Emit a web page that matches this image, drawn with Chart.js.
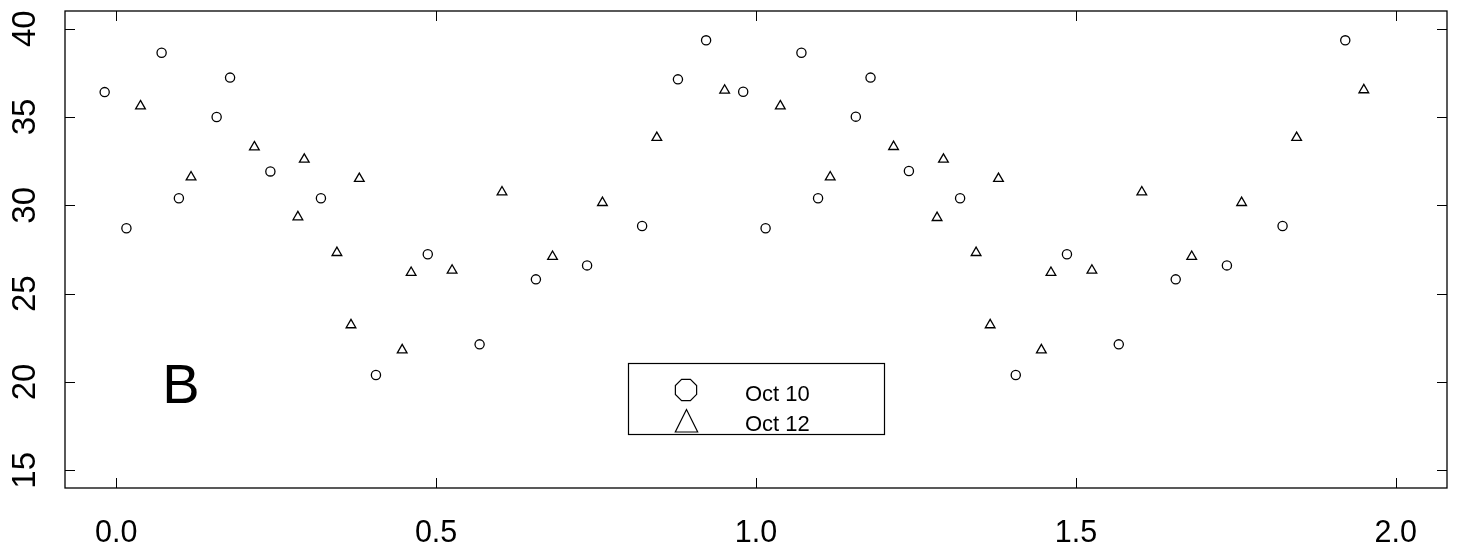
<!DOCTYPE html>
<html>
<head>
<meta charset="utf-8">
<script src="https://cdn.jsdelivr.net/npm/chart.js@4.4.0/dist/chart.umd.min.js"></script>
<style>
  html, body { margin: 0; padding: 0; background: #fff; }
  #wrap { width: 1460px; height: 554px; }
</style>
</head>
<body>
<div id="wrap"><canvas id="grafico" width="1460" height="554"></canvas></div>
<script>
// Dados (x, y) para cada série
const oct10X = [-0.018, 0.016, 0.071, 0.098, 0.157, 0.178, 0.241, 0.320, 0.406, 0.487, 0.568, 0.656, 0.736, 0.822, 0.878, 0.922,
                0.980, 1.015, 1.071, 1.097, 1.156, 1.179, 1.239, 1.319, 1.406, 1.486, 1.567, 1.656, 1.736, 1.823, 1.921];
const oct10Y = [36.41, 28.70, 38.64, 30.40, 35.00, 37.23, 31.92, 30.40, 20.40, 27.23, 22.13, 25.81, 26.60, 28.83, 37.13, 39.34,
                36.43, 28.70, 38.64, 30.40, 35.02, 37.23, 31.94, 30.40, 20.40, 27.23, 22.13, 25.81, 26.60, 28.83, 39.34];
const oct12X = [0.038, 0.117, 0.216, 0.284, 0.294, 0.345, 0.367, 0.380, 0.447, 0.461, 0.525, 0.603, 0.682, 0.760, 0.845, 0.951,
                1.038, 1.116, 1.215, 1.283, 1.293, 1.344, 1.366, 1.379, 1.446, 1.461, 1.525, 1.603, 1.681, 1.759, 1.845, 1.950];
const oct12Y = [35.62, 31.60, 33.30, 29.34, 32.60, 27.32, 23.23, 31.51, 21.81, 26.19, 26.32, 30.75, 27.10, 30.15, 33.83, 36.51,
                35.62, 31.60, 33.32, 29.30, 32.60, 27.32, 23.23, 31.51, 21.81, 26.19, 26.32, 30.75, 27.10, 30.15, 33.83, 36.53];
const xTicks = [0, 0.5, 1, 1.5, 2];
const yTicks = [15, 20, 25, 30, 35, 40];
const nomesSeries = ['Oct 10', 'Oct 12'];
const rotuloPainel = 'B';

const FONTE = '"Liberation Sans", Arial, Helvetica, sans-serif';

function pares(xs, ys) {
    return xs.map((x, i) => ({ x: x, y: ys[i] }));
}

// Moldura, marcas internas, letra do painel e legenda
const moldura = {
    id: 'moldura',
    afterDraw(chart) {
        const ctx = chart.ctx;
        const a = chart.chartArea;
        const sx = chart.scales.x;
        const sy = chart.scales.y;
        ctx.save();
        ctx.strokeStyle = '#000';
        ctx.lineWidth = 1.3;
        ctx.strokeRect(a.left, a.top, a.right - a.left, a.bottom - a.top);

        ctx.lineWidth = 1;
        ctx.beginPath();
        xTicks.forEach(v => {
            const px = Math.round(sx.getPixelForValue(v)) + 0.5;
            ctx.moveTo(px, a.bottom); ctx.lineTo(px, a.bottom - 10);
            ctx.moveTo(px, a.top); ctx.lineTo(px, a.top + 10);
        });
        yTicks.forEach(v => {
            const py = Math.round(sy.getPixelForValue(v)) + 0.5;
            ctx.moveTo(a.left, py); ctx.lineTo(a.left + 10, py);
            ctx.moveTo(a.right, py); ctx.lineTo(a.right - 10, py);
        });
        ctx.stroke();

        // Letra do painel
        ctx.fillStyle = '#000';
        ctx.font = '56px ' + FONTE;
        ctx.textAlign = 'center';
        ctx.textBaseline = 'alphabetic';
        ctx.fillText(rotuloPainel, 181, 403);

        // Legenda
        ctx.lineWidth = 1.2;
        ctx.strokeRect(628.5, 363.5, 256, 71);
        const cx = 686, cy = 390, r = 11.5;
        ctx.beginPath();
        for (let k = 0; k < 8; k++) {
            const ang = Math.PI / 8 + k * Math.PI / 4;
            const px = cx + r * Math.cos(ang), py = cy + r * Math.sin(ang);
            if (k === 0) ctx.moveTo(px, py); else ctx.lineTo(px, py);
        }
        ctx.closePath();
        ctx.stroke();
        ctx.beginPath();
        ctx.moveTo(686.5, 409.5);
        ctx.lineTo(675.3, 432);
        ctx.lineTo(697.7, 432);
        ctx.closePath();
        ctx.stroke();

        ctx.font = '22px ' + FONTE;
        ctx.textAlign = 'left';
        ctx.fillText(nomesSeries[0], 745, 400.5);
        ctx.fillText(nomesSeries[1], 745, 430.5);
        ctx.restore();
    }
};

const ctxGraf = document.getElementById('grafico').getContext('2d');
new Chart(ctxGraf, {
    type: 'scatter',
    data: {
        datasets: [
            {
                label: nomesSeries[0],
                data: pares(oct10X, oct10Y),
                pointStyle: 'circle',
                pointRadius: 4.6,
                borderColor: '#000',
                backgroundColor: 'rgba(0,0,0,0)',
                borderWidth: 1.3
            },
            {
                label: nomesSeries[1],
                data: pares(oct12X, oct12Y),
                pointStyle: 'triangle',
                pointRadius: 5.6,
                borderColor: '#000',
                backgroundColor: 'rgba(0,0,0,0)',
                borderWidth: 1.3
            }
        ]
    },
    options: {
        responsive: false,
        devicePixelRatio: 1,
        animation: false,
        layout: { padding: { left: 0, right: 13, top: 11, bottom: 0 } },
        plugins: { legend: { display: false }, tooltip: { enabled: false } },
        scales: {
            x: {
                type: 'linear',
                min: -0.08,
                max: 2.08,
                afterBuildTicks: s => { s.ticks = xTicks.map(v => ({ value: v })); },
                afterFit: s => { s.height = 66; s.paddingLeft = 0; s.paddingRight = 0; },
                grid: { display: false, drawTicks: false },
                border: { display: false },
                ticks: {
                    autoSkip: false,
                    maxRotation: 0,
                    padding: 27,
                    color: '#000',
                    font: { family: FONTE, size: 30.5 },
                    callback: v => Number(v).toFixed(1)
                }
            },
            y: {
                type: 'linear',
                min: 14,
                max: 41,
                afterBuildTicks: s => { s.ticks = yTicks.map(v => ({ value: v })); },
                afterFit: s => { s.width = 65; s.paddingTop = 0; s.paddingBottom = 0; },
                grid: { display: false, drawTicks: false },
                border: { display: false },
                ticks: {
                    autoSkip: false,
                    minRotation: 90,
                    maxRotation: 90,
                    crossAlign: 'center',
                    padding: 21,
                    color: '#000',
                    font: { family: FONTE, size: 33 },
                    callback: v => String(v)
                }
            }
        }
    },
    plugins: [moldura]
});
</script>
</body>
</html>
